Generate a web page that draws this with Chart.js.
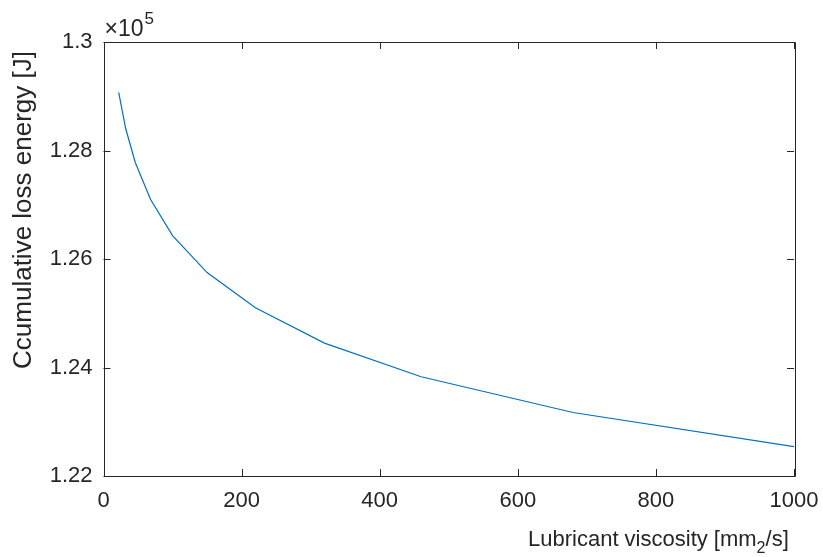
<!DOCTYPE html>
<html>
<head>
<meta charset="utf-8">
<script src="https://cdn.jsdelivr.net/npm/chart.js@4"></script>
<style>
  html, body { margin: 0; padding: 0; background: #fff; }
  #wrap { width: 823px; height: 557px; }
</style>
</head>
<body>
<div id="wrap"><canvas id="chart" width="823" height="557"></canvas></div>
<script>
// viscosity grades (mm2/s) and cumulative loss energy (J)
const viscosity = [22, 32, 46, 68, 100, 150, 220, 320, 460, 680, 1000];
const lossEnergy = [129070, 128410, 127780, 127100, 126430, 125750, 125100, 124450, 123830, 123170, 122540];
const xTicks = [0, 200, 400, 600, 800, 1000];
const yTicks = [122000, 124000, 126000, 128000, 130000];

const FONT = '"Liberation Sans", Arial, Helvetica, sans-serif';
const AXIS_COLOR = '#262626';

// box round the axes + inward ticks, labels and exponent
const matlabAxes = {
    id: 'matlabAxes',
    afterDraw(chart) {
        const ctx = chart.ctx;
        const a = chart.chartArea;
        const xs = chart.scales.x;
        const ys = chart.scales.y;
        const tl = 7;
        ctx.save();
        ctx.strokeStyle = AXIS_COLOR;
        ctx.lineWidth = 1;
        ctx.beginPath();
        ctx.rect(Math.round(a.left) + 0.5, Math.round(a.top) + 0.5,
                 Math.round(a.right - a.left), Math.round(a.bottom - a.top));
        xTicks.forEach(v => {
            const px = Math.round(xs.getPixelForValue(v)) + 0.5;
            ctx.moveTo(px, a.bottom); ctx.lineTo(px, a.bottom - tl);
            ctx.moveTo(px, a.top); ctx.lineTo(px, a.top + tl);
        });
        yTicks.forEach(v => {
            const py = Math.round(ys.getPixelForValue(v)) + 0.5;
            ctx.moveTo(a.left, py); ctx.lineTo(a.left + tl, py);
            ctx.moveTo(a.right, py); ctx.lineTo(a.right - tl, py);
        });
        ctx.stroke();

        ctx.fillStyle = AXIS_COLOR;
        // exponent label
        ctx.font = '23px ' + FONT;
        ctx.textBaseline = 'alphabetic';
        ctx.textAlign = 'left';
        ctx.fillText('\u00d710', a.left + 1, 36);
        const w10 = ctx.measureText('\u00d710').width;
        ctx.font = '17px ' + FONT;
        ctx.fillText('5', a.left + 1 + w10 + 1, 24);

        // x title with subscript
        ctx.font = '22px ' + FONT;
        let x = 528;
        const base = 546;
        const p1 = 'Lubricant viscosity [mm';
        ctx.fillText(p1, x, base);
        x += ctx.measureText(p1).width;
        ctx.font = '16px ' + FONT;
        ctx.fillText('2', x, base + 7);
        x += ctx.measureText('2').width;
        ctx.font = '22px ' + FONT;
        ctx.fillText('/s]', x, base);

        // y title
        ctx.translate(24, 210);
        ctx.rotate(-Math.PI / 2);
        ctx.textAlign = 'center';
        ctx.textBaseline = 'middle';
        ctx.font = '26px ' + FONT;
        ctx.fillText('Ccumulative loss energy [J]', 0, 0);
        ctx.restore();
    }
};

new Chart(document.getElementById('chart'), {
    type: 'line',
    data: {
        datasets: [{
            data: viscosity.map((v, i) => ({ x: v, y: lossEnergy[i] })),
            borderColor: '#0072BD',
            borderWidth: 1.2,
            pointRadius: 0,
            fill: false,
            tension: 0
        }]
    },
    options: {
        responsive: false,
        animation: false,
        devicePixelRatio: 1,
        layout: { padding: { left: 0, top: 42, right: 29, bottom: 0 } },
        plugins: { legend: { display: false }, tooltip: { enabled: false } },
        scales: {
            x: {
                type: 'linear',
                min: 0, max: 1000,
                afterFit: s => { s.height = 81; s.paddingLeft = 0; s.paddingRight = 0; },
                afterBuildTicks: s => { s.ticks = xTicks.map(v => ({ value: v })); },
                grid: { display: false, drawTicks: false },
                border: { display: false },
                ticks: {
                    color: AXIS_COLOR, font: { family: FONT, size: 22 }, padding: 12, maxRotation: 0,
                    callback: v => String(v)
                }
            },
            y: {
                type: 'linear',
                min: 122000, max: 130000,
                afterFit: s => { s.width = 103.5; s.paddingTop = 0; s.paddingBottom = 0; },
                afterBuildTicks: s => { s.ticks = yTicks.map(v => ({ value: v })); },
                grid: { display: false, drawTicks: false },
                border: { display: false },
                ticks: {
                    color: AXIS_COLOR, font: { family: FONT, size: 22 }, padding: 11,
                    callback: v => String(parseFloat((v / 1e5).toFixed(2)))
                }
            }
        }
    },
    plugins: [matlabAxes]
});
</script>
</body>
</html>
